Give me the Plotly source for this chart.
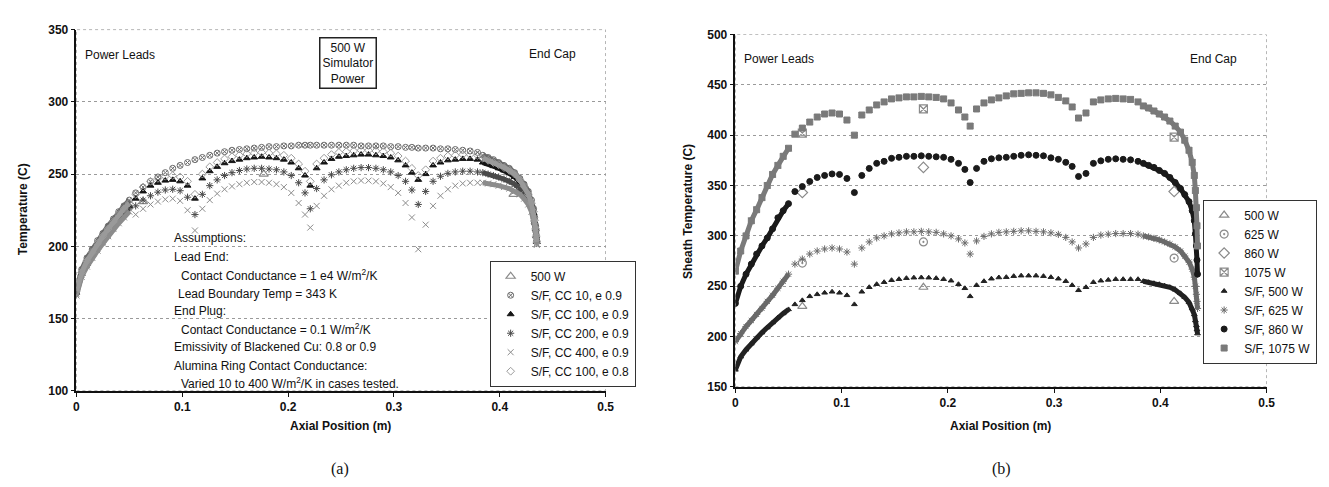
import plotly.graph_objects as go

W, H = 1329, 487

# model node positions along the heater (m): dense lead section, scalloped middle, dense end cap
x_start = [0, 0.005, 0.01, 0.015, 0.02, 0.025, 0.03, 0.035, 0.04, 0.045, 0.05]
x_arcs = [0.056, 0.063, 0.070, 0.077, 0.084, 0.091, 0.098, 0.105, 0.112,
          0.119, 0.126, 0.133, 0.140, 0.147, 0.154, 0.161, 0.168, 0.175, 0.182, 0.189, 0.196, 0.203, 0.210, 0.216, 0.221,
          0.227, 0.234, 0.241, 0.248, 0.255, 0.262, 0.269, 0.276, 0.283, 0.290, 0.297, 0.304, 0.311, 0.317, 0.323,
          0.330, 0.337, 0.344, 0.351, 0.358, 0.365, 0.372, 0.379]
x_end = [0.384, 0.389, 0.394, 0.399, 0.404, 0.409, 0.414, 0.419, 0.423, 0.427, 0.430, 0.432, 0.433, 0.434, 0.4345, 0.435]
x_sf = x_start + x_arcs + x_end

# thermocouple positions (m)
x_tc = [0.063, 0.177, 0.413]

# ---- panel (a): 500 W, sensitivity cases
a_meas_500 = [231, 250, 236]
a_cc10 = [170, 184, 192, 198, 204, 209, 214, 219, 224, 228, 232,
          237, 241, 245, 248, 251, 254, 256, 258, 260,
          261.5, 263, 264.5, 265.5, 266.5, 267, 267.5, 268, 268.5, 269, 269, 269.5, 269.5, 270, 270, 270,
          270, 270, 270, 270, 270, 270, 269.5, 269.5, 269.5, 269.5, 269, 269, 268.5, 268.5, 268,
          268, 268, 267.5, 267.5, 267, 266.5, 266, 265,
          263, 261.5, 260, 258, 256, 254, 251, 247, 243, 238, 232, 226, 220, 214, 208, 204]
a_cc100 = [168, 181, 188, 194, 200, 205, 210, 215, 220, 224, 228,
           233, 238, 242, 244, 245.5, 246, 245, 242, 233,
           247, 252, 255, 257.5, 259, 260, 261, 261.5, 262, 261.5, 261, 260, 258, 254, 249, 242,
           254, 258, 260.5, 262, 262.5, 263, 263.5, 263.5, 263, 262.5, 261.5, 259.5, 256, 251, 246,
           250, 256, 258, 259.5, 260, 260.5, 260.5, 260,
           258, 257, 255.5, 254, 252.5, 250.5, 248, 244.5, 240, 235, 229, 223, 217, 212, 207, 203]
a_cc200 = [167, 180, 187, 193, 198, 203, 208, 213, 218, 222, 226,
           228, 232, 235, 237.5, 239, 239.5, 238.5, 234, 222,
           236, 242, 246, 249, 251, 252.5, 253.5, 254, 254, 253.5, 253, 251.5, 249, 244, 237, 226,
           240, 246, 249.5, 251.5, 253, 254, 254.5, 254.5, 254, 253, 251.5, 249, 245, 239, 229,
           238, 245, 248.5, 250.5, 251.5, 252, 252, 251.5,
           251, 250, 249, 248, 246.5, 245, 243, 240, 236, 232, 227, 221, 215, 210, 206, 202]
a_cc400 = [166, 179, 186, 192, 197, 202, 207, 212, 216, 220, 224,
           222, 226, 229, 231, 232.5, 233, 231.5, 225, 211,
           226, 232, 236.5, 239.5, 241.5, 243, 244, 244.5, 244.5, 244, 243, 241, 237, 230, 222, 213,
           228, 235, 239.5, 242, 244, 245, 245.5, 245.5, 245, 243.5, 241, 237, 230, 220, 198,
           215, 228, 235, 239.5, 242, 243.5, 244, 244,
           244, 243.5, 243, 242, 241, 240, 238, 236, 233, 229, 224, 219, 214, 209, 205, 201]
a_cc100_e8 = [169, 182, 190, 196, 202, 207, 212, 217, 222, 226, 230,
              236, 241, 245, 247, 248.5, 249, 248, 245, 236,
              250, 255, 258, 260.5, 262, 263, 264, 264.5, 265, 264.5, 264, 263, 261, 257, 252, 245,
              257, 261, 263.5, 265, 265.5, 266, 266.5, 266.5, 266, 265.5, 264.5, 262.5, 259, 254, 249,
              253, 259, 261, 262.5, 263, 263.5, 263.5, 263,
              261, 259.5, 258, 256.5, 254.5, 252.5, 250, 246, 241.5, 236, 230, 224, 218, 212, 207, 203]

# ---- panel (b): power levels, measured vs S/F model
b_meas_500 = [230, 249, 235]
b_meas_625 = [273, 294, 278]
b_meas_860 = [343, 368, 344]
b_meas_1075 = [402, 426, 398]
b_sf_500 = [167, 180, 187, 193, 199, 204, 209, 214, 219, 223, 227,
            232, 236, 240, 242, 243.5, 244.5, 243.5, 241, 232,
            244.5, 249, 252, 254, 256, 257, 258, 258.5, 258.7, 258.5, 258, 257, 255.5, 252, 248, 240,
            251, 255, 257.5, 258.7, 259, 260, 260.5, 260.5, 260.5, 260, 259, 257.5, 255, 251, 246,
            249, 254, 255.5, 256.3, 257, 257, 257, 257,
            255, 254, 253, 252, 250.5, 249, 246.5, 243, 239, 234, 228, 222, 216, 211, 207, 203]
b_sf_625 = [195, 203, 210, 216, 222, 228, 235, 241, 248, 255, 262,
            272, 277, 282, 285, 287, 288, 287, 284, 272,
            288, 294, 298, 300, 302, 303, 304, 304, 304.5, 304, 303.5, 302, 300, 297, 293, 282,
            295, 299.5, 302, 303.5, 304, 304.5, 305, 305, 304.5, 304, 303, 301.5, 298.5, 294, 288,
            292, 298.5, 300.8, 301.7, 302.3, 302.3, 302.3, 301.7,
            300, 299, 297.5, 296, 294, 292, 289, 285, 280, 274, 267, 259, 250, 242, 235, 228]
b_sf_860 = [233, 250, 262, 272, 282, 290, 298, 307, 318, 325, 332,
            344, 349, 354, 358, 360, 361.5, 361, 357, 343,
            360, 367, 372, 374, 377, 378, 379, 379, 379.5, 379, 378.5, 378, 376, 372, 366, 353,
            367, 374, 376.5, 377.5, 378, 379, 380, 380.5, 380, 379.5, 377.5, 376, 373, 369, 359,
            362, 372, 374.5, 376, 376.5, 376, 375.5, 374,
            372, 370, 368, 365, 362, 358, 353, 347, 341, 334, 325, 315, 302, 290, 276, 262]
b_sf_1075 = [265, 285, 300, 315, 326, 338, 350, 361, 370, 379, 387,
             401, 407, 413, 418, 421, 422, 421, 415, 400,
             420, 425, 430, 433, 436, 437, 438, 438, 438.5, 438, 437.5, 436, 432, 425, 418, 409,
             426, 432, 435, 437, 439, 441, 441.5, 442, 442, 441.5, 440, 437.5, 434, 428, 417,
             422, 433, 435, 436, 436.5, 436, 435.5, 433,
             429, 427, 424, 421, 418, 414, 409, 403, 395, 385, 373, 360, 345, 328, 310, 290]

FONT = "Liberation Sans, Arial, sans-serif"
n_start = len(x_start)
n_end = len(x_end)

fig = go.Figure()


def add_meas(name, y, symbol, color, xa, ya, legend):
    fig.add_trace(go.Scatter(
        x=x_tc, y=y, name=name, mode="markers", xaxis=xa, yaxis=ya, legend=legend,
        marker=dict(symbol=symbol, size=8, color=color, line=dict(width=1.2, color=color))))


def add_sf(name, y, symbol, color, xa, ya, legend, size=6):
    # dense lead / end-cap nodes merge into a thick band
    for xs, ys in [(x_start, y[:n_start]), (x_end, y[-n_end:])]:
        fig.add_trace(go.Scatter(
            x=xs, y=ys, mode="lines", xaxis=xa, yaxis=ya, legend=legend, showlegend=False,
            legendgroup=name, hoverinfo="skip", line=dict(color=color, width=5)))
    fig.add_trace(go.Scatter(
        x=x_sf, y=y, name=name, mode="markers", xaxis=xa, yaxis=ya, legend=legend, legendgroup=name,
        marker=dict(symbol=symbol, size=size, color=color, line=dict(width=1, color=color))))


# panel (a)
add_meas("500 W", a_meas_500, "triangle-up-open", "#8a8a8a", "x", "y", "legend")
add_sf("S/F, CC 10, e 0.9", a_cc10, "circle-x-open", "#6a6a6a", "x", "y", "legend")
add_sf("S/F, CC 100, e 0.9", a_cc100, "triangle-up", "#151515", "x", "y", "legend")
add_sf("S/F, CC 200, e 0.9", a_cc200, "asterisk-open", "#4a4a4a", "x", "y", "legend")
add_sf("S/F, CC 400, e 0.9", a_cc400, "x-thin-open", "#8c8c8c", "x", "y", "legend")
add_sf("S/F, CC 100, e 0.8", a_cc100_e8, "diamond-open", "#9a9a9a", "x", "y", "legend")

# panel (b)
add_meas("500 W", b_meas_500, "triangle-up-open", "#8a8a8a", "x2", "y2", "legend2")
add_meas("625 W", b_meas_625, "circle-open-dot", "#8a8a8a", "x2", "y2", "legend2")
add_meas("860 W", b_meas_860, "diamond-open", "#8a8a8a", "x2", "y2", "legend2")
add_meas("1075 W", b_meas_1075, "square-x-open", "#8a8a8a", "x2", "y2", "legend2")
add_sf("S/F, 500 W", b_sf_500, "triangle-up", "#222222", "x2", "y2", "legend2", size=5)
add_sf("S/F, 625 W", b_sf_625, "asterisk-open", "#6a6a6a", "x2", "y2", "legend2")
add_sf("S/F, 860 W", b_sf_860, "circle", "#1a1a1a", "x2", "y2", "legend2", size=6)
add_sf("S/F, 1075 W", b_sf_1075, "square-x", "#7a7a7a", "x2", "y2", "legend2", size=6)

axis_common = dict(showline=True, linecolor="#111", linewidth=1.5, ticks="outside", ticklen=4,
                   tickcolor="#111", zeroline=False,
                   tickfont=dict(family=FONT, size=12, color="#111", weight="bold"))
xdom_a = [66 / W, 600 / W]
xdom_b = [731 / W, 1267 / W]
legend_font = dict(family=FONT, size=12, color="#111")

fig.update_layout(
    width=W, height=H, margin=dict(l=0, r=0, t=0, b=0),
    paper_bgcolor="white", plot_bgcolor="white",
    font=dict(family=FONT, size=12, color="#111"),
    xaxis=dict(domain=xdom_a, range=[0, 0.5], dtick=0.1, showgrid=False, anchor="y", **axis_common),
    yaxis=dict(domain=[1 - 387 / H, 1 - 15 / H], range=[100, 350], dtick=50, showgrid=True,
               gridcolor="#9a9a9a", griddash="dot", gridwidth=1, anchor="x", **axis_common),
    xaxis2=dict(domain=xdom_b, range=[0, 0.5], dtick=0.1, showgrid=False, anchor="y2", **axis_common),
    yaxis2=dict(domain=[1 - 383 / H, 1 - 20 / H], range=[150, 500], dtick=50, showgrid=True,
                gridcolor="#9a9a9a", griddash="dot", gridwidth=1, anchor="x2", **axis_common),
    legend=dict(x=483 / W, y=1 - 253 / H, xanchor="left", yanchor="top", bgcolor="white",
                bordercolor="#333", borderwidth=1, font=legend_font, tracegroupgap=0, itemwidth=30),
    legend2=dict(x=1203 / W, y=1 - 190 / H, xanchor="left", yanchor="top", bgcolor="white",
                 bordercolor="#333", borderwidth=1, font=legend_font, tracegroupgap=0, itemwidth=30),
    showlegend=True,
)

# dotted frame around each plot area
for xr, yr, y0, y1 in [("x", "y", 100, 350), ("x2", "y2", 150, 500)]:
    fig.add_shape(type="rect", xref=xr, yref=yr, x0=0, x1=0.5, y0=y0, y1=y1,
                  line=dict(color="#777", width=1, dash="dot"), layer="below")


def note(text, px, py, xanchor="left", size=12, bold=False, **kw):
    if bold:
        text = "<b>" + text + "</b>"
    fig.add_annotation(text=text, x=px / W, y=1 - py / H, xref="paper", yref="paper",
                       xanchor=xanchor, yanchor="middle", showarrow=False,
                       font=dict(family=kw.pop("family", FONT), size=size, color="#111"), **kw)


note("Power Leads", 73, 41)
note("End Cap", 521, 40)
note("500 W<br>Simulator<br>Power", 340, 49, xanchor="center", size=12,
     bordercolor="#222", borderwidth=1.5, borderpad=2, bgcolor="white")
assumptions = [
    ("Assumptions:", 162, 230), ("Lead End:", 162, 249),
    ("Contact Conductance = 1 e4 W/m<sup>2</sup>/K", 170, 268),
    ("Lead Boundary Temp = 343 K", 167, 287), ("End Plug:", 162, 305),
    ("Contact Conductance = 0.1 W/m<sup>2</sup>/K", 170, 323),
    ("Emissivity of Blackened Cu: 0.8 or 0.9", 162, 342),
    ("Alumina Ring Contact Conductance:", 162, 361),
    ("Varied 10 to 400 W/m<sup>2</sup>/K in cases tested.", 170, 379),
]
for t, px, py in assumptions:
    note(t, px, py)

note("Power Leads", 738, 45)
note("End Cap", 1188, 45)

note("Axial Position (m)", 333, 423, xanchor="center", bold=True)
note("Axial Position (m)", 999, 423, xanchor="center", bold=True)
note("Temperature (C)", 12, 200, xanchor="center", bold=True, textangle=-90)
note("Sheath Temperature (C)", 683, 202, xanchor="center", bold=True, textangle=-90)
note("(a)", 332, 467, xanchor="center", size=16, family="Liberation Serif, Times New Roman, serif")
note("(b)", 1000, 467, xanchor="center", size=16, family="Liberation Serif, Times New Roman, serif")

fig.write_html("out.html")
